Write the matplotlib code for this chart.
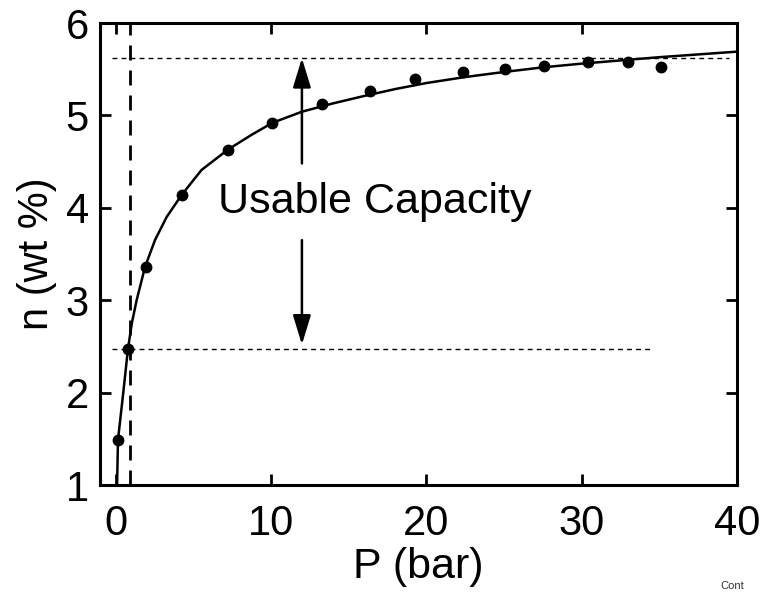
"""Hydrogen uptake isotherm, usable capacity between 1 bar and 35 bar."""

import matplotlib
matplotlib.use("Agg")
import matplotlib.pyplot as plt

plt.rcParams["font.family"] = ["Liberation Sans", "DejaVu Sans"]

# measured points
p_meas = [0.16, 0.8, 1.95, 4.3, 7.25, 10.1, 13.3, 16.4, 19.3, 22.35, 25.1, 27.6, 30.4, 33.0, 35.1]
n_meas = [1.49, 2.47, 3.36, 4.14, 4.63, 4.92, 5.12, 5.26, 5.39, 5.47, 5.50, 5.53, 5.58, 5.58, 5.52]

# fitted curve
p_fit = [0.1, 0.16, 0.5, 0.8, 1.05, 1.36, 1.9, 2.54, 3.29, 4.26, 5.54, 7.24, 8.76, 10.1,
         12.0, 14.0, 16.0, 18.0, 20.0, 22.5, 25.0, 27.5, 30.0, 32.5, 35.0, 37.5, 40.0]
n_fit = [1.0, 1.49, 2.0, 2.47, 2.75, 3.0, 3.36, 3.65, 3.90, 4.14, 4.41, 4.63, 4.79, 4.92,
         5.04, 5.13, 5.21, 5.285, 5.35, 5.415, 5.47, 5.52, 5.56, 5.595, 5.63, 5.66, 5.69]

n_low, n_high = 2.47, 5.62     # usable capacity limits
p_low, p_end_low = 0.93, 34.5  # discharge pressure, end of lower guide
p_arrow = 12.0

fig = plt.figure(figsize=(7.62, 5.93), dpi=100)
ax = fig.add_axes([0.1312, 0.1821, 0.8358, 0.7791])

ax.plot(p_fit, n_fit, "-", color="black", lw=1.8, zorder=3)
ax.plot(p_meas, n_meas, "o", color="black", ms=7.5, zorder=4)

ax.plot([-0.2, 39.5], [n_high, n_high], color="black", lw=1.0, ls=(0, (3.5, 3)))
ax.plot([-0.2, p_end_low], [n_low, n_low], color="black", lw=1.0, ls=(0, (3.5, 3)))
ax.plot([p_low, p_low], [1.0, 6.0], color="black", lw=2.0, ls=(0, (5.4, 3.6)))

head = "-|>,head_length=1.8,head_width=0.55"
ax.annotate("", xy=(p_arrow, n_high), xytext=(p_arrow, 4.48),
            arrowprops=dict(arrowstyle=head, color="black", lw=1.8, shrinkA=0, shrinkB=0))
ax.annotate("", xy=(p_arrow, 2.52), xytext=(p_arrow, 3.65),
            arrowprops=dict(arrowstyle=head, color="black", lw=1.8, shrinkA=0, shrinkB=0))
ax.text(16.7, 4.06, "Usable Capacity", fontsize=31, ha="center", va="center")

ax.set_xlim(-1, 40)
ax.set_ylim(1, 6)
ax.set_xticks([0, 10, 20, 30, 40])
ax.set_yticks([1, 2, 3, 4, 5, 6])
ax.tick_params(direction="in", length=8, width=2, labelsize=30, top=True, right=True)
ax.tick_params(axis="x", pad=14)
ax.tick_params(axis="y", pad=8)
for s in ax.spines.values():
    s.set_linewidth(2.2)
ax.set_xlabel("P (bar)", fontsize=31, labelpad=2)
ax.set_ylabel("n (wt %)", fontsize=30, labelpad=6)

fig.text(0.945, 0.004, "Cont", fontsize=8, color="#333333", va="bottom", ha="left")

fig.savefig("out.png", dpi=100)
plt.close(fig)
